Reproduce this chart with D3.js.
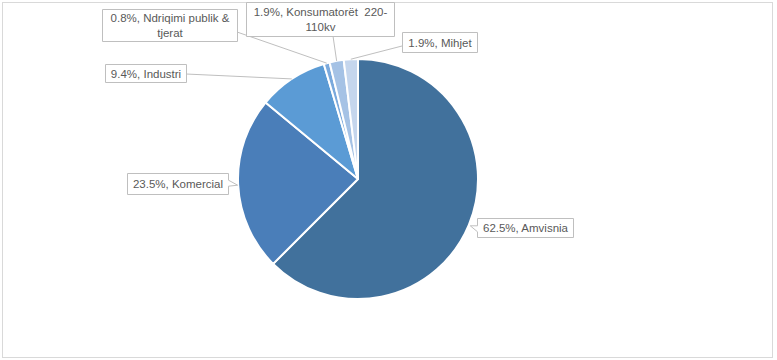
<!DOCTYPE html>
<html>
<head>
<meta charset="utf-8">
<script src="https://cdn.jsdelivr.net/npm/d3@7/dist/d3.min.js"></script>
<style>
  html, body { margin: 0; padding: 0; background: #fff; }
  svg { display: block; }
  text { white-space: pre; }
</style>
</head>
<body>
<svg id="chart" width="777" height="360"></svg>
<script>
// ---- data ----
const categories = ["Amvisnia", "Komercial", "Industri", "Ndriqimi publik & tjerat", "Konsumatorët  220-110kv", "Mihjet"];
const values = [62.5, 23.5, 9.4, 0.8, 1.9, 1.9];
const colors = ["#41719c", "#4a7eb9", "#5b9bd5", "#7aa9dc", "#a5c2e5", "#c5d6ed"];
// label text lines (as wrapped in the reference)
const labelLines = [
  ["62.5%, Amvisnia"],
  ["23.5%, Komercial"],
  ["9.4%, Industri"],
  ["0.8%, Ndriqimi publik &", "tjerat"],
  ["1.9%, Konsumatorët  220-", "110kv"],
  ["1.9%, Mihjet"]
];
// ---- layout (label boxes: x0, y0, x1, y1) ----
const labelBoxes = [
  [477, 218, 573, 237],
  [127, 173, 228, 194],
  [105, 64, 186, 82],
  [102, 9, 237, 41],
  [246, 2, 394, 36],
  [402, 32, 477, 52]
];
// leader anchor on box (for far labels) ; null => wedge callout
const leaderStart = [null, null, [186, 74], [237, 32], [333, 36], [402, 46]];

const W = 777, H = 360;
const cx = 358, cy = 179, R = 120;
const svg = d3.select("#chart");

// frame
svg.append("rect").attr("x", 2.5).attr("y", 2.5).attr("width", 770).attr("height", 355)
  .attr("fill", "#fff").attr("stroke", "#d9d9d9").attr("stroke-width", 1);

const pie = d3.pie().sort(null).value(d => d)(values);
const arc = d3.arc().innerRadius(0).outerRadius(R);
const g = svg.append("g").attr("transform", `translate(${cx},${cy})`);

// leader lines
pie.forEach((p, i) => {
  if (!leaderStart[i]) return;
  const mid = (p.startAngle + p.endAngle) / 2;
  const tx = cx + R * Math.sin(mid), ty = cy - R * Math.cos(mid);
  svg.append("line")
    .attr("x1", leaderStart[i][0]).attr("y1", leaderStart[i][1])
    .attr("x2", tx).attr("y2", ty)
    .attr("stroke", "#bfbfbf").attr("stroke-width", 1);
});

g.selectAll("path").data(pie).enter().append("path")
  .attr("d", arc)
  .attr("fill", (d, i) => colors[i])
  .attr("stroke", "#fff").attr("stroke-width", 2).attr("stroke-linejoin", "round");

// labels
pie.forEach((p, i) => {
  const [x0, y0, x1, y1] = labelBoxes[i];
  const mid = (p.startAngle + p.endAngle) / 2;
  const tx = cx + (R + 1) * Math.sin(mid), ty = cy - (R + 1) * Math.cos(mid);
  let d;
  if (!leaderStart[i]) {
    if (tx > x1) {
      const a = Math.max(y0 + 3, Math.min(y1 - 9, ty - 5));
      d = `M${x0},${y0}H${x1}V${a}L${tx},${ty}L${x1},${a + 6}V${y1}H${x0}Z`;
    } else {
      const a = Math.max(y0, Math.min(y1 - 6, ty));
      d = `M${x0},${y0}H${x1}V${y1}H${x0}V${a + 6}L${tx},${ty}L${x0},${a}Z`;
    }
  } else {
    d = `M${x0},${y0}H${x1}V${y1}H${x0}Z`;
  }
  svg.append("path").attr("d", d)
    .attr("transform", "translate(0.5,0.5)")
    .attr("fill", "#fff").attr("stroke", "#bfbfbf").attr("stroke-width", 1);
  const lines = labelLines[i];
  const lh = 15;
  const mx = (x0 + x1) / 2, my = (y0 + y1) / 2;
  const t = svg.append("text")
    .attr("font-family", "'Liberation Sans', Arial, sans-serif")
    .attr("font-size", 11.5).attr("fill", "#595959").attr("text-anchor", "middle")
    .attr("xml:space", "preserve");
  lines.forEach((s, k) => {
    t.append("tspan").attr("x", mx + 0.5)
      .attr("y", my + 4.5 + (k - (lines.length - 1) / 2) * lh)
      .text(s);
  });
});
</script>
</body>
</html>
